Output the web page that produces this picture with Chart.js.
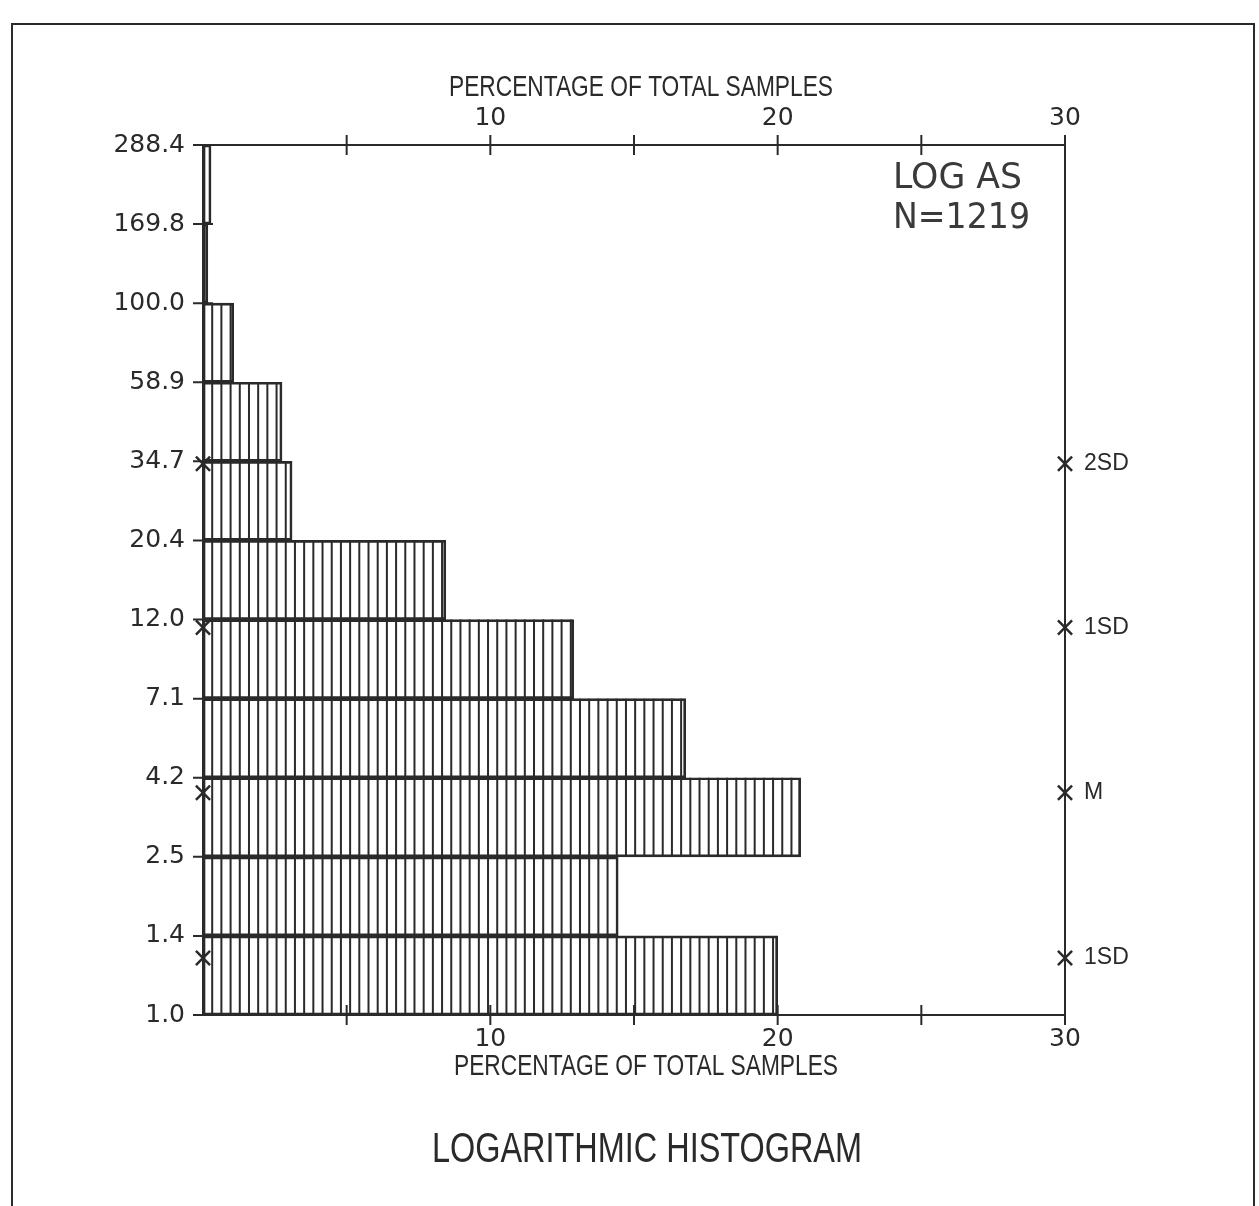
<!DOCTYPE html>
<html>
<head>
<meta charset="utf-8">
<title>Logarithmic Histogram</title>
<script src="https://cdn.jsdelivr.net/npm/chart.js@4.4.1/dist/chart.umd.min.js"></script>
<style>
  html, body { margin: 0; padding: 0; background: #ffffff; }
  #wrap { position: relative; width: 1259px; height: 1206px; }
</style>
</head>
<body>
<div id="wrap"><canvas id="histChart"></canvas></div>
<script>
// Bin edges (log scale, equal spacing) - bottom to top
const binEdges = ['1.0', '1.4', '2.5', '4.2', '7.1', '12.0', '20.4', '34.7', '58.9', '100.0', '169.8', '288.4'];

// Percentage of total samples in each bin (bottom bin first)
const binPercent = [20.0, 14.45, 20.8, 16.8, 12.9, 8.45, 3.1, 2.75, 1.07, 0.17, 0.28];

// Percentage axis labels
const xTickLabels = [10, 20, 30];

// Mean / standard deviation marks, in bin units from the bottom edge
const statPos = [0.72, 2.81, 4.9, 6.97];
const statLabels = ['1SD', 'M', '1SD', '2SD'];

// Annotation text
const sampleInfo = ['LOG AS', 'N=1219'];
const axisTitle = 'PERCENTAGE OF TOTAL SAMPLES';
const chartTitle = 'LOGARITHMIC HISTOGRAM';

const INK = '#2a2a2a';
const PLOT = { left: 203, right: 1065, top: 145, bottom: 1015 };
const W = 1259, H = 1206;
const hatchStep = 0.32; // percent between hatch lines

// Texto ajustado a uma largura fixa
function fitText(ctx, txt, cx, cy, w, font) {
    ctx.save();
    ctx.font = font;
    const m = ctx.measureText(txt).width;
    ctx.translate(cx, cy);
    ctx.scale(w / m, 1);
    ctx.textAlign = 'center';
    ctx.textBaseline = 'middle';
    ctx.fillText(txt, 0, 0);
    ctx.restore();
}

// Hachura vertical dentro das barras
const hatchPlugin = {
    id: 'hatch',
    afterDatasetDraw(chart, args) {
        if (args.index !== 0) return;
        const ctx = chart.ctx;
        const xs = chart.scales.x;
        const step = xs.getPixelForValue(hatchStep) - xs.getPixelForValue(0);
        ctx.save();
        ctx.strokeStyle = INK;
        ctx.lineWidth = 2;
        args.meta.data.forEach(bar => {
            const p = bar.getProps(['x', 'y', 'base', 'height'], true);
            const top = p.y - p.height / 2, bottom = p.y + p.height / 2;
            ctx.beginPath();
            for (let x = p.base + step; x < p.x - 2; x += step) {
                ctx.moveTo(x, top);
                ctx.lineTo(x, bottom);
            }
            ctx.stroke();
        });
        ctx.restore();
    }
};

// Moldura, marcas dos eixos e textos
const decorPlugin = {
    id: 'decor',
    afterDraw(chart) {
        const ctx = chart.ctx;
        const xs = chart.scales.x, ys = chart.scales.y;
        const ca = chart.chartArea;
        ctx.save();
        ctx.strokeStyle = INK;
        ctx.fillStyle = INK;
        ctx.lineWidth = 2;

        // moldura da página
        ctx.beginPath();
        ctx.moveTo(12, H + 5);
        ctx.lineTo(12, 24);
        ctx.lineTo(1254, 24);
        ctx.lineTo(1254, H + 5);
        ctx.stroke();

        // eixo direito
        ctx.beginPath();
        ctx.moveTo(ca.right, ca.top);
        ctx.lineTo(ca.right, ca.bottom);
        ctx.stroke();

        // marcas em cruz nos eixos de percentagem
        ctx.beginPath();
        for (let v = 5; v <= 30; v += 5) {
            const px = xs.getPixelForValue(v);
            ctx.moveTo(px, ca.top - 10); ctx.lineTo(px, ca.top + 10);
            ctx.moveTo(px, ca.bottom - 10); ctx.lineTo(px, ca.bottom + 10);
        }
        // marcas do eixo log
        for (let i = 0; i < binEdges.length; i++) {
            const py = ys.getPixelForValue(i);
            ctx.moveTo(ca.left - 10, py); ctx.lineTo(ca.left + 10, py);
        }
        ctx.stroke();

        // rótulos das marcas estatísticas
        const meta = chart.getDatasetMeta(2);
        ctx.font = '23px "Liberation Sans", Arial, sans-serif';
        ctx.textAlign = 'left';
        ctx.textBaseline = 'middle';
        meta.data.forEach((pt, i) => {
            ctx.fillText(statLabels[i], pt.x + 19, pt.y);
        });

        // títulos dos eixos
        const titleFont = '29px "Liberation Sans Narrow", "Liberation Sans", Arial, sans-serif';
        fitText(ctx, axisTitle, 641, 88, 384, titleFont);
        fitText(ctx, axisTitle, 646, 1067, 384, titleFont);

        // título principal
        fitText(ctx, chartTitle, 647, 1150, 430, '42px "Liberation Sans Narrow", "Liberation Sans", Arial, sans-serif');

        // legenda LOG AS
        ctx.fillStyle = '#3a3a3a';
        fitText(ctx, sampleInfo[0], 893 + 129 / 2, 179, 129, '35px "DejaVu Sans", sans-serif');
        fitText(ctx, sampleInfo[1], 893 + 137 / 2, 219, 137, '35px "DejaVu Sans", sans-serif');
        ctx.restore();
    }
};

const tickFont = { family: '"DejaVu Sans", sans-serif', size: 25 };

const xAxisCommon = {
    type: 'linear',
    min: 0,
    max: 30,
    grid: { display: false, drawTicks: false },
    border: { display: true, color: INK, width: 2 },
    ticks: {
        stepSize: 5,
        color: INK,
        font: tickFont,
        maxRotation: 0,
        autoSkip: false,
        callback: v => xTickLabels.includes(v) ? String(v) : ''
    }
};

const markerStyle = {
    type: 'scatter',
    pointStyle: 'crossRot',
    radius: 10,
    borderWidth: 2.5,
    borderColor: INK,
    clip: false,
    order: 0,
    xAxisID: 'x',
    yAxisID: 'y'
};

new Chart(document.getElementById('histChart'), {
    type: 'bar',
    data: {
        datasets: [
            {
                label: 'Percentage',
                data: binPercent.map((p, i) => ({ x: p, y: i + 0.5 })),
                backgroundColor: 'rgba(255,255,255,0)',
                borderColor: INK,
                borderWidth: 2,
                borderSkipped: false,
                barPercentage: 1,
                categoryPercentage: 1,
                order: 1,
                xAxisID: 'x',
                yAxisID: 'y'
            },
            Object.assign({ label: 'stats left', data: statPos.map(y => ({ x: 0, y: y })) }, markerStyle),
            Object.assign({ label: 'stats right', data: statPos.map(y => ({ x: 30, y: y })) }, markerStyle)
        ]
    },
    options: {
        indexAxis: 'y',
        responsive: true,
        maintainAspectRatio: false,
        animation: false,
        layout: { padding: { left: 0, right: W - PLOT.right, top: 0, bottom: 0 } },
        plugins: {
            legend: { display: false },
            tooltip: { enabled: false },
            title: { display: false }
        },
        scales: {
            x: Object.assign({}, xAxisCommon, {
                position: 'bottom',
                ticks: Object.assign({}, xAxisCommon.ticks, { padding: 9 }),
                afterFit: s => { s.height = H - PLOT.bottom; }
            }),
            x2: Object.assign({}, xAxisCommon, {
                position: 'top',
                ticks: Object.assign({}, xAxisCommon.ticks, { padding: 12 }),
                afterFit: s => { s.height = PLOT.top; }
            }),
            y: {
                type: 'linear',
                min: 0,
                max: binEdges.length - 1,
                offset: false,
                grid: { display: false, drawTicks: false, offset: false },
                border: { display: true, color: INK, width: 2 },
                ticks: {
                    stepSize: 1,
                    color: INK,
                    font: tickFont,
                    padding: 18,
                    autoSkip: false,
                    callback: v => binEdges[v] !== undefined ? binEdges[v] : ''
                },
                afterFit: s => { s.width = PLOT.left; }
            }
        }
    },
    plugins: [hatchPlugin, decorPlugin]
});
</script>
</body>
</html>
